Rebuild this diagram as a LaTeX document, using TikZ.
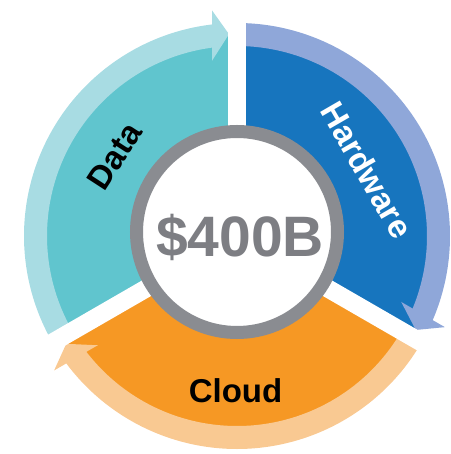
\documentclass[tikz,border=0pt]{standalone}
\usepackage{fontspec}
\setmainfont{Liberation Sans}
\definecolor{tealdark}{RGB}{96,197,206}
\definecolor{teallight}{RGB}{168,220,227}
\definecolor{bluedark}{RGB}{23,117,190}
\definecolor{bluelight}{RGB}{143,167,217}
\definecolor{orangedark}{RGB}{246,152,36}
\definecolor{orangelight}{RGB}{249,201,146}
\definecolor{ringgray}{RGB}{138,140,145}
\definecolor{textgray}{RGB}{125,126,131}
\tikzset{
  lbl/.style={font=\bfseries\fontsize{33}{33}\selectfont, inner sep=0pt},
  gapline/.style={white, line width=18pt},
}
\begin{document}
\begin{tikzpicture}[x=1pt,y=1pt]
\useasboundingbox (-237,-218) rectangle (213,236);
\coordinate (c) at (0,0);
\foreach \s/\e/\b/\dk/\lt in {210/90/96/tealdark/teallight, 90/-30/-24/bluedark/bluelight, -30/-150/-144/orangedark/orangelight}{
  % dark sector
  \fill[\dk] (\s:203) arc[start angle=\s, end angle=\e, radius=203]
     -- (\e:100) arc[start angle=\e, end angle=\s, radius=100] -- cycle;
  % light band
  \fill[\lt] (\s:213) arc[start angle=\s, end angle=\b, radius=213]
     -- (\b:190) arc[start angle=\b, end angle=\s, radius=190] -- cycle;
  % arrow head
  \begin{scope}[rotate=\e-90]
    \fill[\lt] (-25,225.6) -- (-8,201.8) -- (-25,175.2) -- cycle;
  \end{scope}
}
\coordinate (g1) at (90:240);
\coordinate (g2) at (-30:240);
\coordinate (g3) at (210:240);
\draw[gapline] (c) -- (g1);
\draw[gapline] (c) -- (g2);
\draw[gapline] (c) -- (g3);
\draw[ringgray, line width=13pt, fill=white] (0,4) circle[radius=100.5];
\node[font=\bfseries\fontsize{57}{57}\selectfont, text=textgray, anchor=base, inner sep=0pt] (total) at (3,-21) {\$400B};
\node[lbl, anchor=base] (cloud) at (-1.5,-166) {Cloud};
\node[lbl, rotate=57] (data) at (-122,80) {Data};
\node[lbl, text=white, rotate=-60] (hw) at (130,66) {Hardware};
\end{tikzpicture}
\end{document}
